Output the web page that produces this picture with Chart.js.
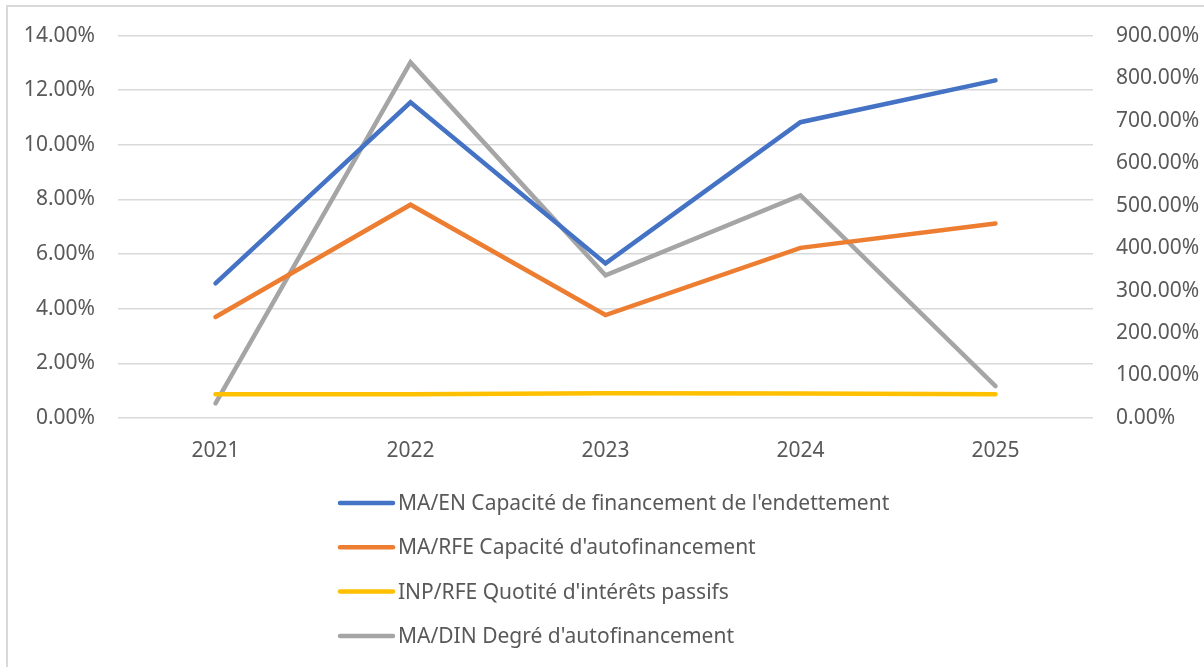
<!DOCTYPE html>
<html>
<head>
<meta charset="utf-8">
<script src="https://cdn.jsdelivr.net/npm/chart.js@4.4.1/dist/chart.umd.min.js"></script>
<style>
  html, body { margin: 0; padding: 0; background: #ffffff; }
  #wrap { position: relative; width: 1204px; height: 667px; }
  canvas { display: block; }
</style>
</head>
<body>
<div id="wrap"><canvas id="c" width="1204" height="667"></canvas></div>
<script>
const categories = ['2021', '2022', '2023', '2024', '2025'];
const maEn  = [4.93, 11.56, 5.66, 10.83, 12.36];
const maRfe = [3.70, 7.81, 3.77, 6.23, 7.12];
const inpRfe = [0.87, 0.87, 0.91, 0.90, 0.87];
const maDin = [34.5, 837, 336, 524, 75];
const seriesLabels = [
  "MA/EN Capacité de financement de l'endettement",
  "MA/RFE Capacité d'autofinancement",
  "INP/RFE Quotité d'intérêts passifs",
  "MA/DIN Degré d'autofinancement"
];
const leftTicks = [0, 2, 4, 6, 8, 10, 12, 14];
const rightTicks = [0, 100, 200, 300, 400, 500, 600, 700, 800, 900];

const FONT = "'Noto Sans', 'Open Sans', sans-serif";
const TXT = '#595959';

const legendPlugin = {
  id: 'vlegend',
  afterDraw(chart) {
    const ctx = chart.ctx;
    ctx.save();
    // frame
    ctx.strokeStyle = '#d9d9d9';
    ctx.lineWidth = 2;
    ctx.beginPath();
    ctx.moveTo(7, 667);
    ctx.lineTo(7, 6);
    ctx.lineTo(1204, 6);
    ctx.stroke();
    const x0 = 340, x1 = 393, tx = 398;
    const y0 = 503, dy = 44.3;
    ctx.font = '21px ' + FONT;
    ctx.textBaseline = 'middle';
    ctx.textAlign = 'left';
    chart.data.datasets.forEach((ds, i) => {
      const y = y0 + i * dy;
      ctx.strokeStyle = ds.borderColor;
      ctx.lineWidth = 4.5;
      ctx.lineCap = 'round';
      ctx.beginPath();
      ctx.moveTo(x0, y);
      ctx.lineTo(x1, y);
      ctx.stroke();
      ctx.fillStyle = TXT;
      ctx.fillText(ds.label, tx, y + 1);
    });
    ctx.restore();
  }
};

const mk = (label, data, color, axis) => ({
  label, data, borderColor: color, backgroundColor: color, yAxisID: axis,
  borderWidth: 4.5, pointRadius: 0, pointHoverRadius: 0, tension: 0,
  borderCapStyle: 'round', borderJoinStyle: 'miter', fill: false
});

new Chart(document.getElementById('c'), {
  type: 'line',
  data: {
    labels: categories,
    datasets: [
      mk(seriesLabels[0], maEn, '#4472c4', 'y'),
      mk(seriesLabels[1], maRfe, '#ed7d31', 'y'),
      mk(seriesLabels[2], inpRfe, '#ffc000', 'y'),
      mk(seriesLabels[3], maDin, '#a5a5a5', 'y1')
    ]
  },
  options: {
    responsive: false,
    devicePixelRatio: 1,
    animation: false,
    layout: { padding: { top: 35, left: 0, right: 0, bottom: 0 } },
    plugins: { legend: { display: false }, tooltip: { enabled: false }, title: { display: false } },
    scales: {
      x: {
        offset: true,
        grid: { display: false, drawTicks: false },
        border: { display: false },
        ticks: { color: TXT, font: { family: FONT, size: 21 }, padding: 20 },
        afterFit(s) { s.height = 667 - 418 - 0; }
      },
      y: {
        position: 'left',
        min: 0, max: 14,
        afterBuildTicks(s) { s.ticks = leftTicks.map(v => ({ value: v })); },
        grid: { color: '#d9d9d9', lineWidth: 1.5, drawTicks: false },
        border: { display: false },
        ticks: { color: TXT, font: { family: FONT, size: 21 }, padding: 23,
                 callback: v => v.toFixed(2) + '%' },
        afterFit(s) { s.width = 118; }
      },
      y1: {
        position: 'right',
        min: 0, max: 900,
        afterBuildTicks(s) { s.ticks = rightTicks.map(v => ({ value: v })); },
        grid: { display: false, drawTicks: false },
        border: { display: false },
        ticks: { color: TXT, font: { family: FONT, size: 21 }, padding: 23,
                 callback: v => v.toFixed(2) + '%' },
        afterFit(s) { s.width = 1204 - 1093; }
      }
    }
  },
  plugins: [legendPlugin]
});
</script>
</body>
</html>
